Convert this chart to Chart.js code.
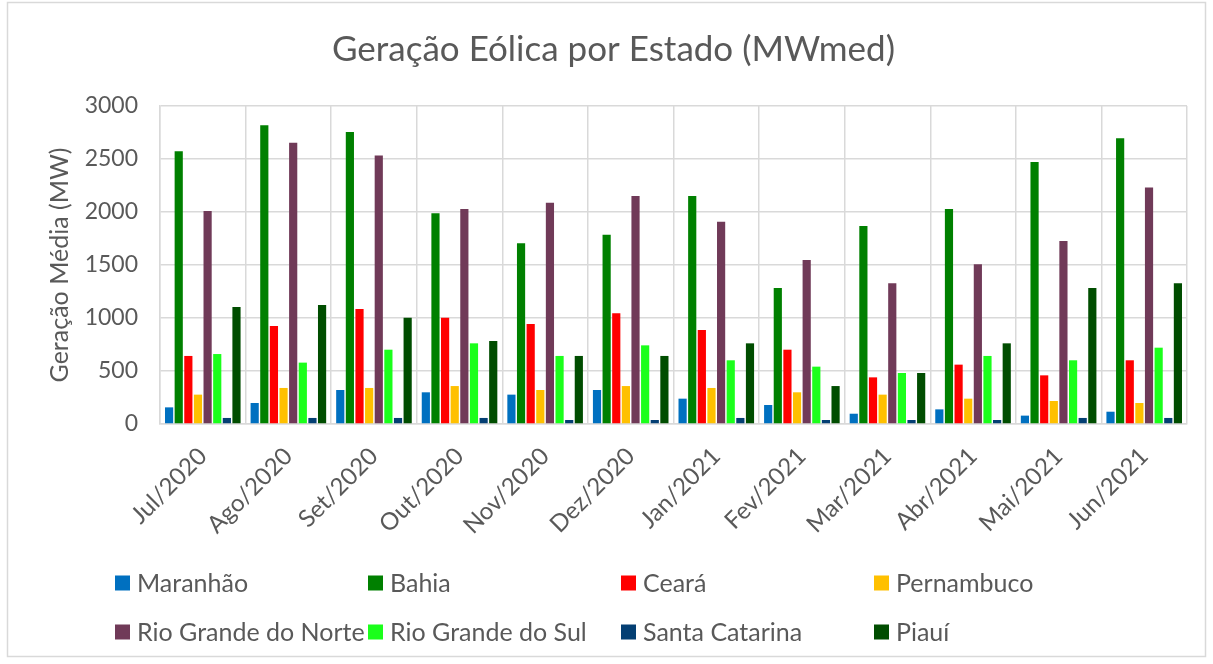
<!DOCTYPE html>
<html>
<head>
<meta charset="utf-8">
<script src="https://cdn.jsdelivr.net/npm/chart.js@4"></script>
<style>
    body { margin: 0; background: #fff; }
    #wrap { position: relative; width: 1213px; height: 664px; }
</style>
</head>
<body>
<div id="wrap"><canvas id="windChart" width="1213" height="664"></canvas></div>
<script>
const months = ['Jul/2020','Ago/2020','Set/2020','Out/2020','Nov/2020','Dez/2020','Jan/2021','Fev/2021','Mar/2021','Abr/2021','Mai/2021','Jun/2021'];

const maranhao      = [157, 198, 321, 299, 277, 321, 239, 179, 97, 138, 79, 116];
const bahia         = [2573, 2818, 2755, 1988, 1705, 1786, 2151, 1283, 1868, 2029, 2472, 2695];
const ceara         = [642, 925, 1085, 1003, 944, 1044, 887, 701, 440, 560, 459, 601];
const pernambuco    = [277, 340, 340, 358, 321, 358, 340, 299, 277, 239, 217, 198];
const rgNorte       = [2010, 2654, 2532, 2029, 2088, 2151, 1909, 1547, 1327, 1506, 1727, 2230];
const rgSul         = [660, 579, 701, 761, 642, 742, 601, 541, 481, 642, 601, 720];
const santaCatarina = [57, 57, 57, 57, 38, 38, 57, 38, 38, 38, 57, 57];
const piaui         = [1104, 1123, 1003, 783, 642, 642, 761, 358, 481, 761, 1283, 1327];

const seriesNames  = ['Maranhão','Bahia','Ceará','Pernambuco','Rio Grande do Norte','Rio Grande do Sul','Santa Catarina','Piauí'];
const seriesValues = [maranhao, bahia, ceara, pernambuco, rgNorte, rgSul, santaCatarina, piaui];
const seriesColors = ['#0070C0','#008000','#FF0000','#FFC000','#703A58','#1BFF1B','#043F73','#004D00'];

const textColor = '#595959';
const gridColor = '#d9d9d9';
const fontFamily = 'Lato, "Open Sans", sans-serif';

// legend laid out as a 4 column grid, like the spreadsheet one
const gridLegend = {
    id: 'gridLegend',
    beforeDraw(chart) {
        const ctx = chart.ctx;
        ctx.save();
        ctx.fillStyle = '#fff';
        ctx.fillRect(0, 0, chart.width, chart.height);
        ctx.strokeStyle = gridColor;
        ctx.lineWidth = 1.5;
        ctx.strokeRect(7.5, 2.5, chart.width - 15, chart.height - 10);
        ctx.restore();
    },
    afterDraw(chart) {
        const ctx = chart.ctx;
        const colX = [115, 368, 621, 874];
        const rowY = [583, 632];
        ctx.save();
        ctx.font = '25px ' + fontFamily;
        ctx.textBaseline = 'middle';
        ctx.textAlign = 'left';
        chart.data.datasets.forEach((ds, i) => {
            const x = colX[i % 4];
            const y = rowY[Math.floor(i / 4)];
            ctx.fillStyle = ds.backgroundColor;
            ctx.fillRect(x, y - 7.5, 15, 15);
            ctx.fillStyle = textColor;
            ctx.fillText(ds.label, x + 22, y + 1);
        });
        ctx.restore();
    }
};

const ctx = document.getElementById('windChart').getContext('2d');
const windChart = new Chart(ctx, {
    type: 'bar',
    data: {
        labels: months,
        datasets: seriesNames.map((name, i) => ({
            label: name,
            data: seriesValues[i],
            backgroundColor: seriesColors[i],
            borderWidth: 0,
            categoryPercentage: 0.9,
            barPercentage: 0.85
        }))
    },
    options: {
        responsive: false,
        devicePixelRatio: 1,
        animation: false,
        layout: { padding: { left: 40, right: 26, top: 0, bottom: 120 } },
        scales: {
            x: {
                grid: { color: gridColor, lineWidth: 1.5, drawTicks: false, offset: true },
                border: { color: gridColor, width: 1.5 },
                ticks: {
                    color: textColor,
                    font: { family: fontFamily, size: 24 },
                    maxRotation: 45,
                    minRotation: 45,
                    padding: 18,
                    autoSkip: false
                },
                afterFit(scale) { scale.height = 120; }
            },
            y: {
                min: 0,
                max: 3000,
                grid: { color: gridColor, lineWidth: 1.5, drawTicks: false },
                border: { color: gridColor, width: 1.5 },
                ticks: {
                    stepSize: 500,
                    color: textColor,
                    font: { family: fontFamily, size: 23 },
                    padding: 22,
                    callback: (value) => String(value)
                },
                title: {
                    display: true,
                    text: 'Geração Média (MW)',
                    color: textColor,
                    font: { family: fontFamily, size: 25 },
                    padding: { top: 5, bottom: 0 }
                },
                afterFit(scale) { scale.width = 120; }
            }
        },
        plugins: {
            legend: { display: false },
            tooltip: { enabled: false },
            title: {
                display: true,
                text: 'Geração Eólica por Estado (MWmed)',
                color: textColor,
                font: { family: fontFamily, size: 35, weight: 'normal' },
                padding: { top: 29, bottom: 35 }
            }
        }
    },
    plugins: [gridLegend]
});
</script>
</body>
</html>
